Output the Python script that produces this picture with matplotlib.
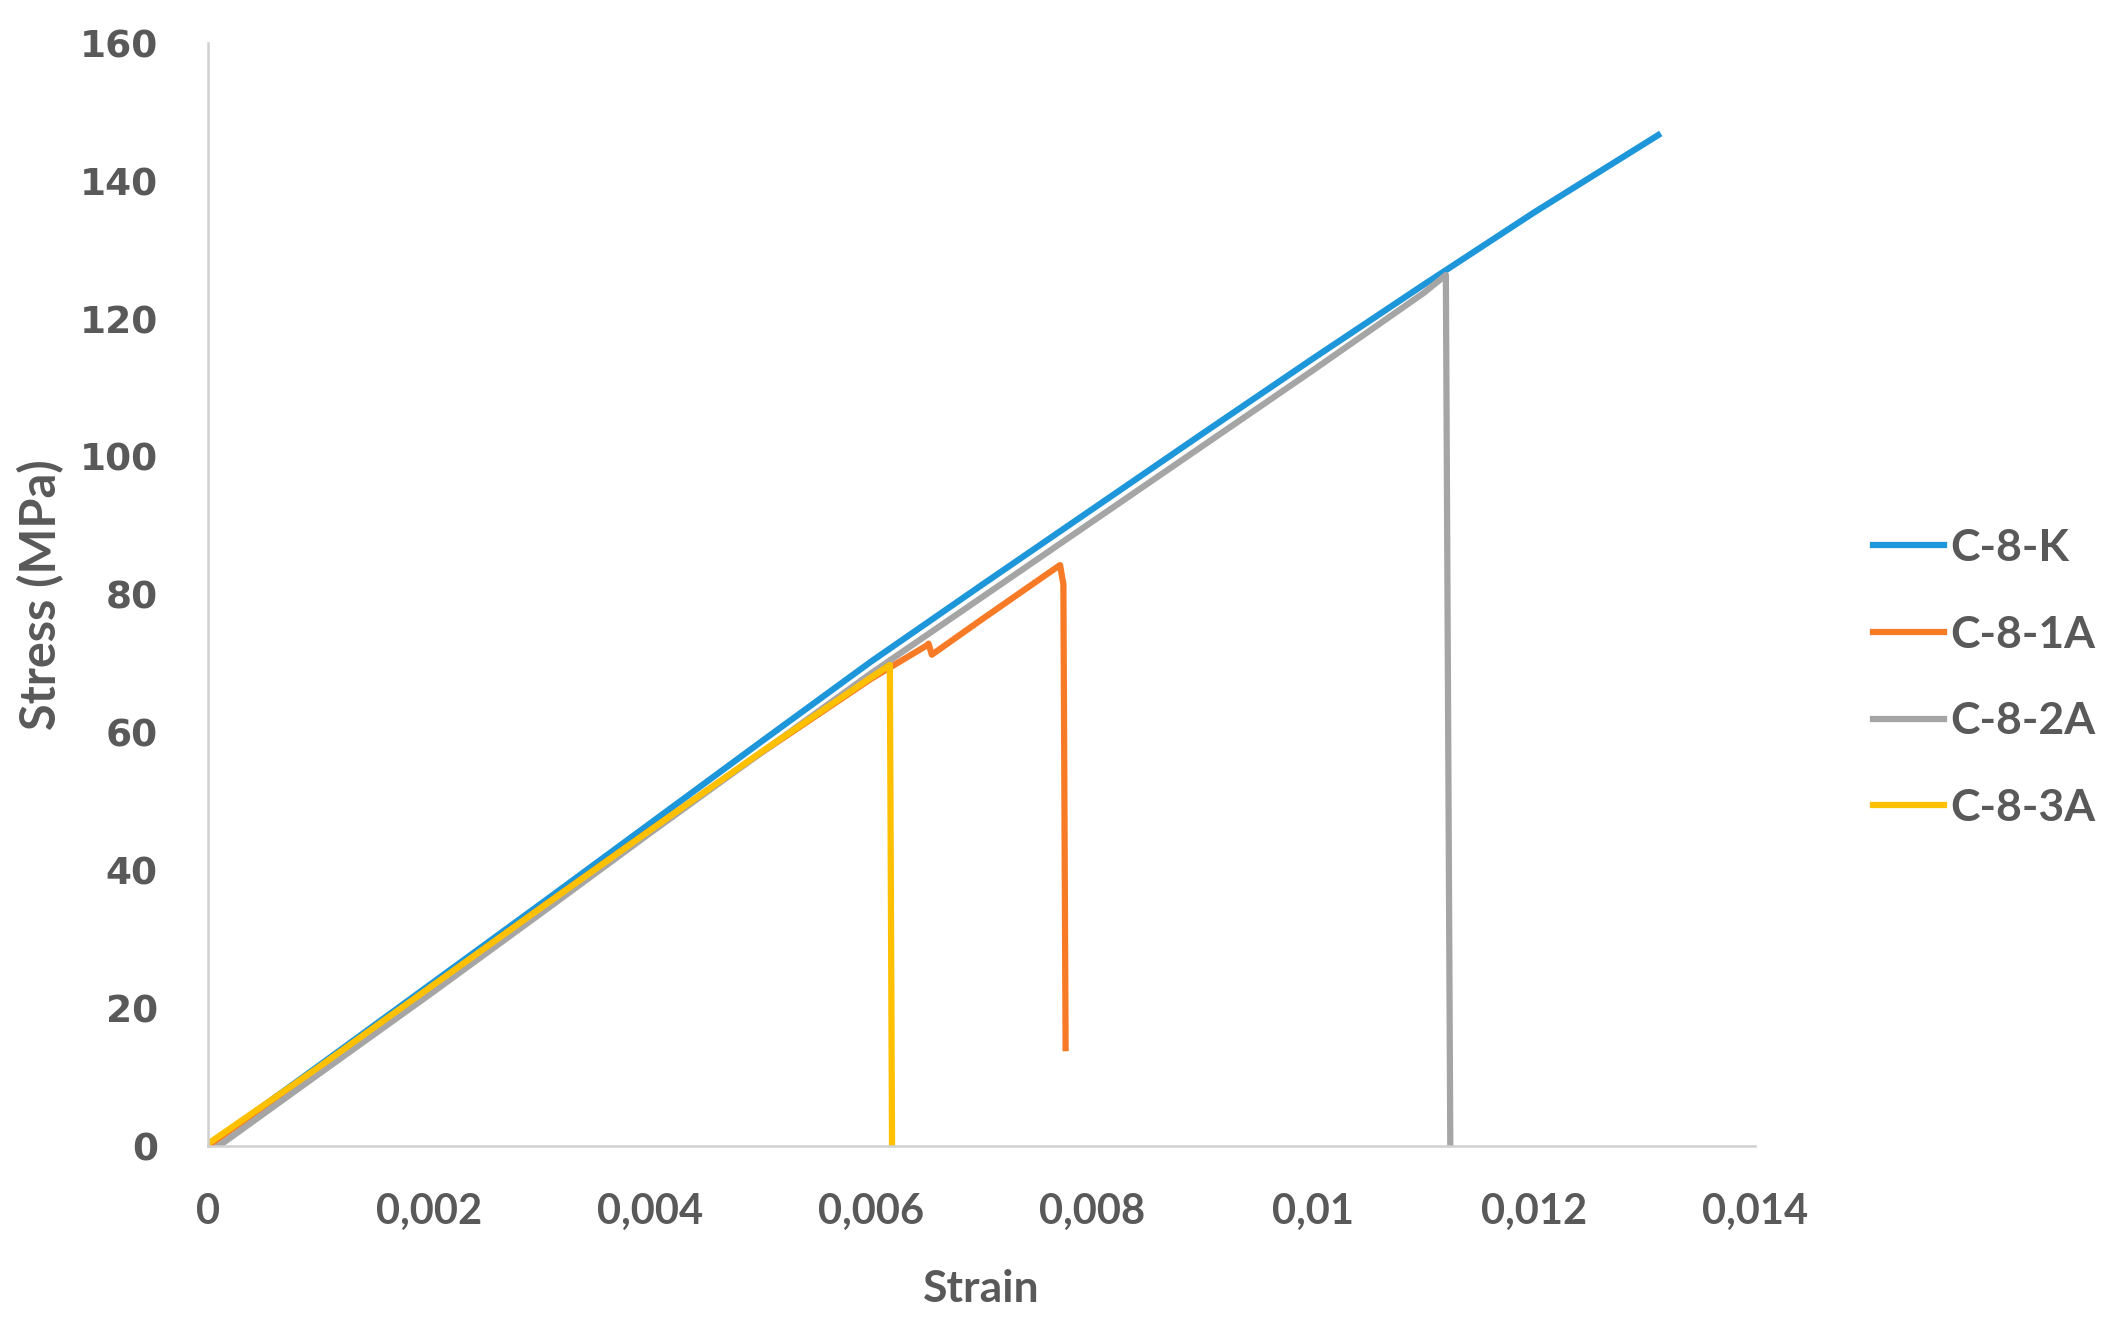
import matplotlib
matplotlib.use("Agg")
import matplotlib.pyplot as plt
from matplotlib.ticker import FixedLocator

# values
strain_k = [0, 0.001, 0.002, 0.003, 0.004, 0.005, 0.006, 0.007, 0.008, 0.009, 0.010, 0.011, 0.012, 0.01312]
stress_k = [0, 11.6, 23.3, 35.0, 46.8, 58.6, 70.3, 81.4, 92.4, 103.4, 114.3, 125.0, 135.5, 146.7]

strain_1a = [0, 0.001, 0.002, 0.003, 0.004, 0.005, 0.006, 0.0065, 0.00652, 0.00655, 0.0070, 0.0077, 0.00771, 0.00774, 0.00776]
stress_1a = [0, 11.2, 22.8, 34.4, 45.8, 57.0, 67.8, 72.6, 72.9, 71.3, 76.4, 84.2, 84.3, 81.5, 14.2]

strain_2a = [0.0001, 0.001, 0.002, 0.003, 0.004, 0.005, 0.006, 0.007, 0.008, 0.009, 0.010, 0.011, 0.0112, 0.01124]
stress_2a = [0, 10.4, 21.9, 33.6, 45.4, 57.0, 68.6, 79.6, 90.6, 101.6, 112.6, 123.8, 126.4, 0]

strain_3a = [0, 0.001, 0.002, 0.003, 0.004, 0.005, 0.006, 0.00617, 0.00619]
stress_3a = [0.3, 11.4, 22.9, 34.4, 45.8, 57.1, 68.0, 69.8, 0]

labels = ['C-8-K', 'C-8-1A', 'C-8-2A', 'C-8-3A']
colors = ['#1E96DA', '#F77B27', '#A5A5A5', '#FFC000']

x_ticks = [0, 0.002, 0.004, 0.006, 0.008, 0.010, 0.012, 0.014]
x_ticklabels = ['0', '0,002', '0,004', '0,006', '0,008', '0,01', '0,012', '0,014']
y_ticks = [0, 20, 40, 60, 80, 100, 120, 140, 160]

txt = '#595959'
lato = ['Lato', 'DejaVu Sans']

fig = plt.figure(figsize=(21.01, 13.18), dpi=100)
ax = fig.add_axes([0.0989, 0.1305, 0.7366, 0.8365])

series = [(strain_k, stress_k), (strain_1a, stress_1a), (strain_2a, stress_2a), (strain_3a, stress_3a)]
for (xs, ys), lab, col in zip(series, labels, colors):
    ax.plot(xs, ys, color=col, lw=4.5, label=lab, solid_joinstyle='round')

ax.set_xlim(0, 0.014)
ax.set_ylim(0, 160)
ax.xaxis.set_major_locator(FixedLocator(x_ticks))
ax.set_xticklabels(x_ticklabels, family=lato, fontweight='bold', fontsize=30, color=txt)
ax.yaxis.set_major_locator(FixedLocator(y_ticks))
ax.set_yticklabels([str(v) for v in y_ticks], family='DejaVu Sans', fontweight='bold', fontsize=27, color=txt)
ax.tick_params(axis='x', length=0, pad=34)
ax.tick_params(axis='y', length=0, pad=36)

for s in ['top', 'right']:
    ax.spines[s].set_visible(False)
for s in ['left', 'bottom']:
    ax.spines[s].set_color('#D0D0D0')
    ax.spines[s].set_linewidth(1.8)

ax.set_xlabel('Strain', family=lato, fontweight='bold', fontsize=32, color=txt, va='center')
ax.xaxis.set_label_coords(0.5, -0.13)
ax.set_ylabel('Stress (MPa)', family=lato, fontweight='bold', fontsize=35, color=txt, va='center')
ax.yaxis.set_label_coords(-0.108, 0.5)

leg = ax.legend(loc='center left', bbox_to_anchor=(0.8914, 0.4856), bbox_transform=fig.transFigure,
                frameon=False, borderpad=0, borderaxespad=0, handlelength=1.6, handletextpad=0.15,
                labelspacing=1.05, prop={'family': lato, 'weight': 'bold', 'size': 32})
for t in leg.get_texts():
    t.set_color(txt)

fig.savefig('out.png', dpi=100)
